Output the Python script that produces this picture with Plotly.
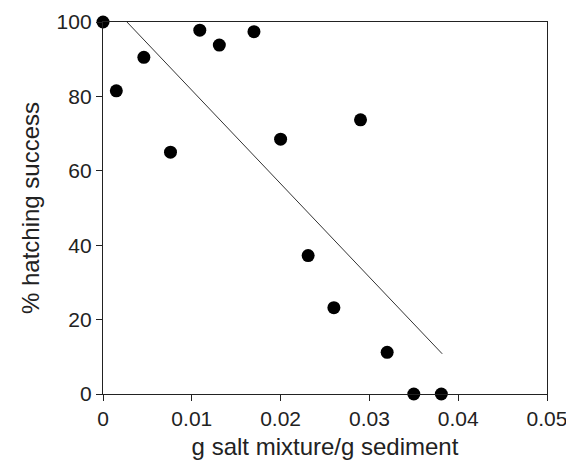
import plotly.graph_objects as go

salt = [0.0, 0.0015, 0.0046, 0.0076, 0.0109, 0.0131, 0.0170, 0.0200, 0.0231, 0.0260, 0.0290, 0.0320, 0.0350, 0.0381]
hatch = [100.0, 81.5, 90.5, 65.0, 97.8, 93.8, 97.4, 68.5, 37.2, 23.2, 73.7, 11.2, 0.0, 0.0]

fit_x = [0.0027, 0.0382]
fit_y = [100.0, 10.8]

x_ticks = [0, 0.01, 0.02, 0.03, 0.04, 0.05]
x_labels = ["0", "0.01", "0.02", "0.03", "0.04", "0.05"]
y_ticks = [0, 20, 40, 60, 80, 100]

fig = go.Figure()
fig.add_trace(go.Scatter(x=fit_x, y=fit_y, mode="lines",
                         line=dict(color="#333333", width=1), showlegend=False))
fig.add_trace(go.Scatter(x=salt, y=hatch, mode="markers",
                         marker=dict(color="black", size=13), cliponaxis=False,
                         showlegend=False))

font = dict(family="Liberation Sans, Arial, sans-serif", color="#222222")
fig.update_layout(
    width=566, height=457,
    margin=dict(l=95, r=27, t=14, b=71),
    paper_bgcolor="white", plot_bgcolor="white",
    font=font,
    xaxis=dict(range=[0, 0.05], tickvals=x_ticks, ticktext=x_labels, automargin=False,
               showgrid=False, zeroline=False, showline=True, linecolor="#222222",
               linewidth=1.3, mirror=True, ticks="outside", ticklen=6, tickcolor="#222222",
               tickfont=dict(size=21), title=dict(text="g salt mixture/g sediment",
               font=dict(size=24), standoff=8)),
    yaxis=dict(range=[0, 100], tickvals=y_ticks, automargin=False,
               showgrid=False, zeroline=False, showline=True, linecolor="#222222",
               linewidth=1.3, mirror=True, ticks="outside", ticklen=6, tickcolor="#222222",
               tickfont=dict(size=21), title=dict(text="% hatching success",
               font=dict(size=24), standoff=10)),
)
fig.write_html("out.html")
